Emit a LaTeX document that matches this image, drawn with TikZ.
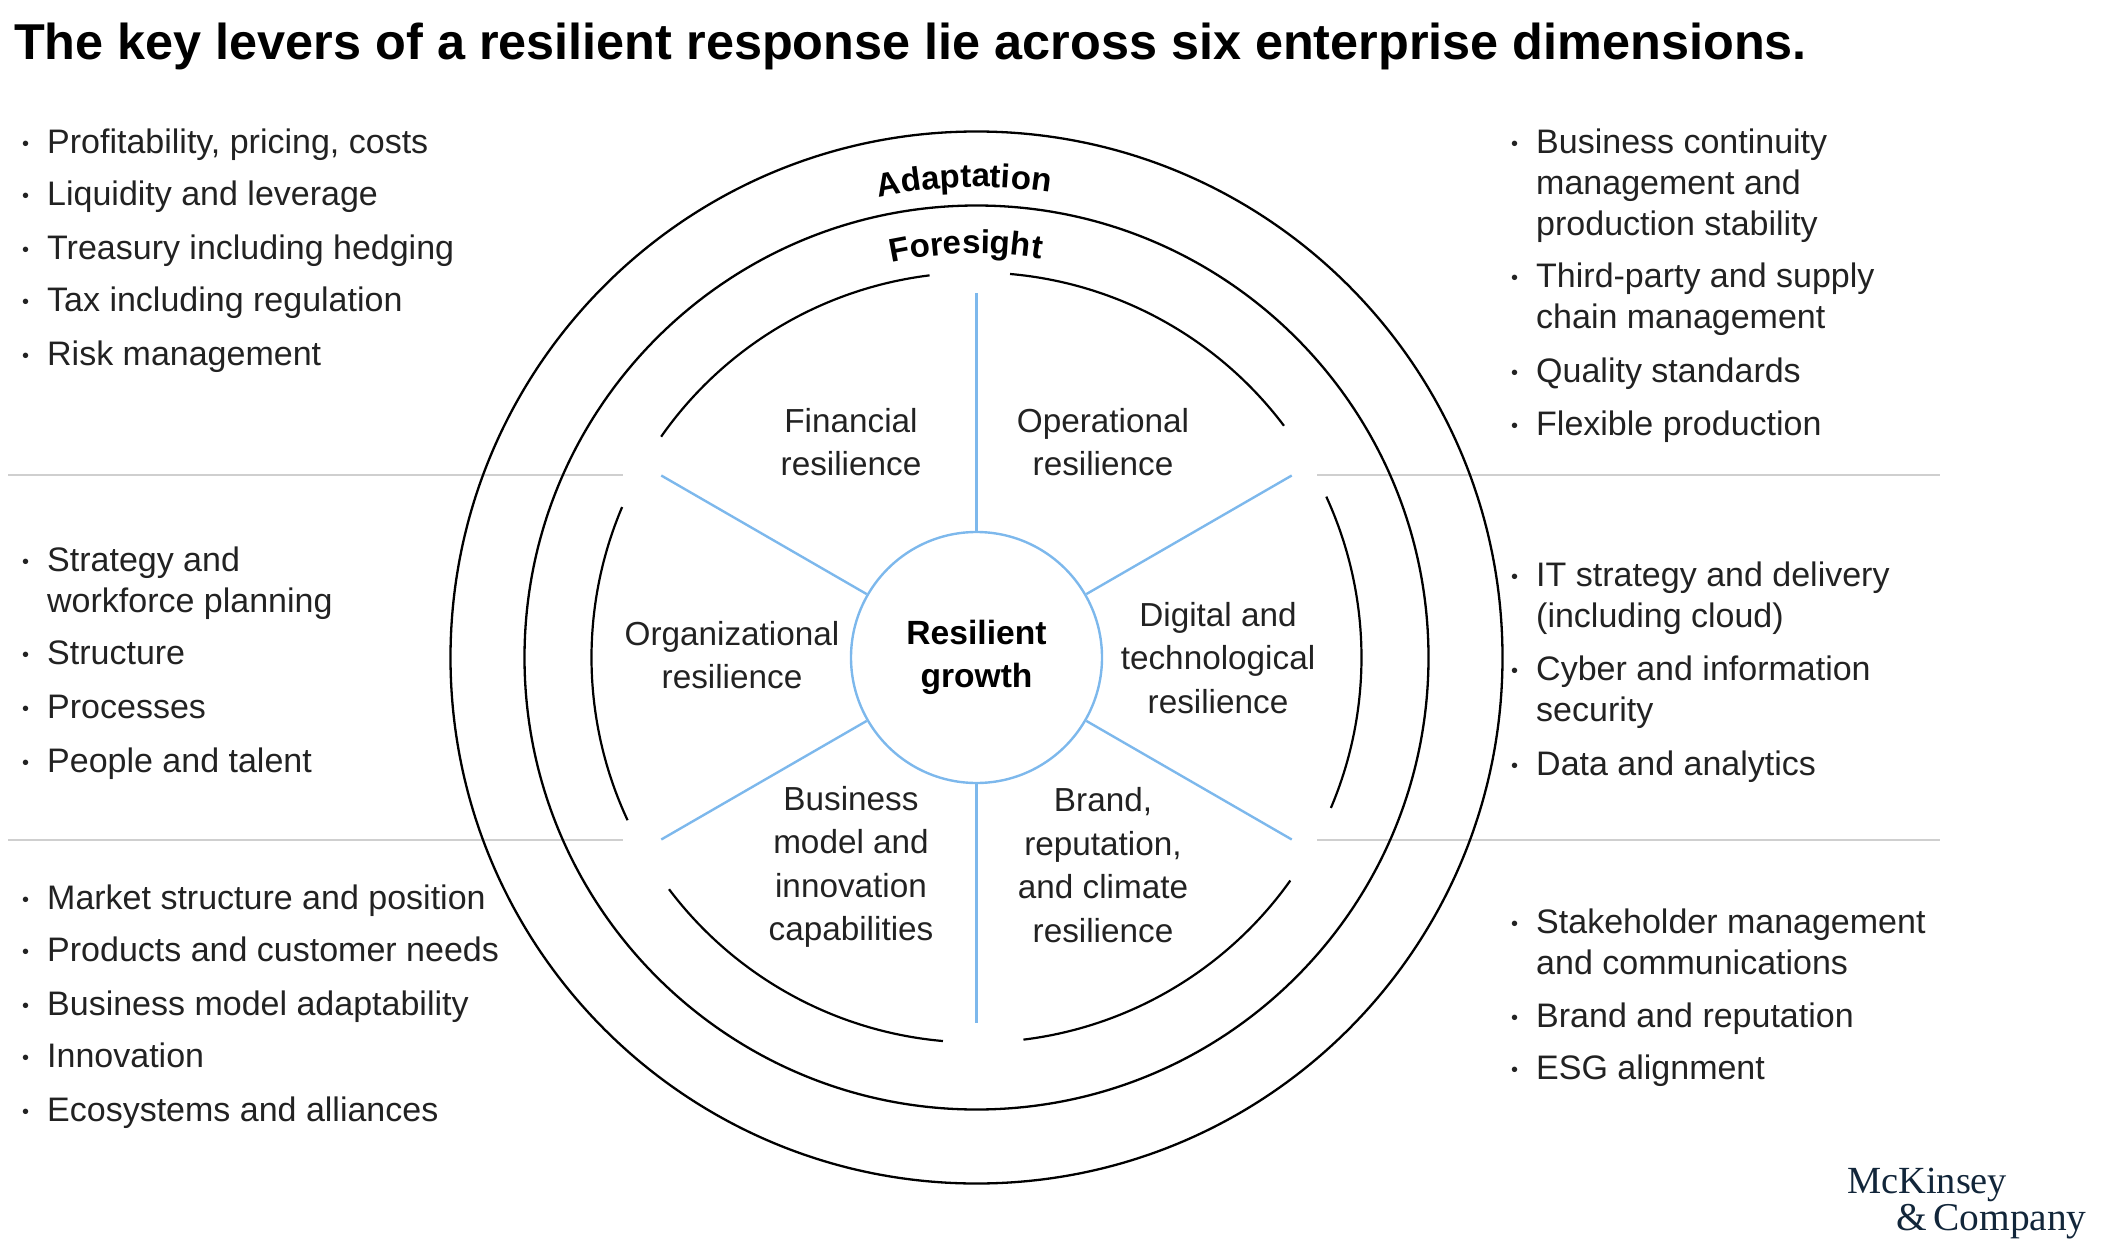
\documentclass[tikz,border=0pt]{standalone}
\usepackage{fontspec}
\setmainfont{Liberation Sans}
\newfontfamily\logofont{Liberation Serif}
\usetikzlibrary{calc,decorations.text}
\definecolor{ink}{HTML}{222222}
\definecolor{spokeblue}{HTML}{7DB8EC}
\definecolor{rulegray}{HTML}{CFCFCF}
\definecolor{logoink}{HTML}{12263A}
\newcommand{\bulletmark}{\llap{\raisebox{3pt}{\fontsize{20}{20}\selectfont •}\hspace{18pt}}}
\tikzset{
  ringline/.style={draw=black,line width=2.3pt,circle,inner sep=0pt},
  arcline/.style={draw=black,line width=2.2pt},
  spoke/.style={draw=spokeblue,line width=2.4pt},
  divider/.style={draw=rulegray,line width=1.6pt},
  item/.style={anchor=north west,inner sep=0pt,align=left,text=ink,yshift=-5.5pt,font=\fontsize{34}{41}\selectfont},
  wheel/.style={align=center,inner sep=0pt,text=ink,font=\fontsize{33.3}{43.5}\selectfont},
}
\newcommand{\curvefont}{\fontsize{33}{33}\selectfont\bfseries}
\newcommand{\innerarc}[2]{\draw[arcline] ($(c)+(#1:385pt)$) arc[start angle=#1,end angle=#2,radius=385pt];}
\begin{document}
\begin{tikzpicture}[x=1pt,y=-1pt]
\useasboundingbox (0,0) rectangle (2102,1258);
\coordinate (c) at (976.5,657.5);
% dividers
\coordinate (dl1a) at (8,475); \coordinate (dl1b) at (623,475);
\coordinate (dr1a) at (1317,475); \coordinate (dr1b) at (1940,475);
\coordinate (dl2a) at (8,840); \coordinate (dl2b) at (623,840);
\coordinate (dr2a) at (1317,840); \coordinate (dr2b) at (1940,840);
\draw[divider] (dl1a)--(dl1b); \draw[divider] (dr1a)--(dr1b);
\draw[divider] (dl2a)--(dl2b); \draw[divider] (dr2a)--(dr2b);
% rings
\node[ringline,minimum size=1052pt] (outer) at (c) {};
\node[ringline,minimum size=904pt] (middle) at (c) {};
% inner arcs
\innerarc{97}{145}
\innerarc{85}{37}
\innerarc{24.7}{-23}
\innerarc{157}{205}
\innerarc{217}{265}
\innerarc{277}{324.6}
% hub and spokes
\node[circle,draw=spokeblue,line width=2.4pt,minimum size=251pt,inner sep=0pt,align=center,font=\fontsize{33.6}{43.5}\selectfont\bfseries] (hub) at (c) {Resilient\\growth};
\coordinate (s90) at ($(c)+(90:365pt)$);
\coordinate (s30) at ($(c)+(30:364pt)$);
\coordinate (s150) at ($(c)+(150:364pt)$);
\coordinate (s210) at ($(c)+(210:364pt)$);
\coordinate (s270) at ($(c)+(270:365pt)$);
\coordinate (s330) at ($(c)+(330:364pt)$);
\draw[spoke] (hub.90)--(s90); \draw[spoke] (hub.30)--(s30);
\draw[spoke] (hub.150)--(s150); \draw[spoke] (hub.210)--(s210);
\draw[spoke] (hub.270)--(s270); \draw[spoke] (hub.330)--(s330);
% curved labels
\path[decorate,decoration={text along path,text={|\curvefont|Adaptation},text align=center}]
  ($(c)+(131.5:470.5pt)$) arc[start angle=131.5,end angle=51.5,radius=470.5pt];
\path[decorate,decoration={text along path,text={|\curvefont|Foresight},text align=center}]
  ($(c)+(131.5:404pt)$) arc[start angle=131.5,end angle=51.5,radius=404pt];
% title
\node[anchor=base west,inner sep=0pt,text=black,font=\fontsize{50.4}{54}\selectfont\bfseries] (title) at (14,59) {The key levers of a resilient response lie across six enterprise dimensions.};
% wheel labels
\node[wheel] (fin) at (851,442) {Financial\\resilience};
\node[wheel] (ope) at (1103,442) {Operational\\resilience};
\node[wheel] (org) at (732,655) {Organizational\\resilience};
\node[wheel] (dig) at (1218,658) {Digital and\\technological\\resilience};
\node[wheel] (bus) at (851,867) {Business\\model and\\innovation\\capabilities};
\node[wheel] (bra) at (1103,865) {Brand,\\reputation,\\and climate\\resilience};
% left lists
\node[item] (a1) at (47,123) {\bulletmark Profitability, pricing, costs};
\node[item] (a2) at (47,175) {\bulletmark Liquidity and leverage};
\node[item] (a3) at (47,229) {\bulletmark Treasury including hedging};
\node[item] (a4) at (47,281) {\bulletmark Tax including regulation};
\node[item] (a5) at (47,335) {\bulletmark Risk management};
\node[item] (b1) at (47,541) {\bulletmark Strategy and\\workforce planning};
\node[item] (b2) at (47,635) {\bulletmark Structure};
\node[item] (b3) at (47,689) {\bulletmark Processes};
\node[item] (b4) at (47,742) {\bulletmark People and talent};
\node[item] (d1) at (47,879) {\bulletmark Market structure and position};
\node[item] (d2) at (47,931) {\bulletmark Products and customer needs};
\node[item] (d3) at (47,985) {\bulletmark Business model adaptability};
\node[item] (d4) at (47,1037) {\bulletmark Innovation};
\node[item] (d5) at (47,1091) {\bulletmark Ecosystems and alliances};
% right lists
\node[item] (e1) at (1536,123) {\bulletmark Business continuity\\management and\\production stability};
\node[item] (e2) at (1536,257) {\bulletmark Third-party and supply\\chain management};
\node[item] (e3) at (1536,352) {\bulletmark Quality standards};
\node[item] (e4) at (1536,405) {\bulletmark Flexible production};
\node[item] (f1) at (1536,556) {\bulletmark IT strategy and delivery\\(including cloud)};
\node[item] (f2) at (1536,650) {\bulletmark Cyber and information\\security};
\node[item] (f3) at (1536,745) {\bulletmark Data and analytics};
\node[item] (g1) at (1536,903) {\bulletmark Stakeholder management\\and communications};
\node[item] (g2) at (1536,997) {\bulletmark Brand and reputation};
\node[item] (g3) at (1536,1049) {\bulletmark ESG alignment};
% logo
\node[anchor=base west,inner sep=0pt,text=logoink,font=\logofont\fontsize{38.4}{40}\selectfont] (logo1) at (1847,1193) {McKinsey};
\node[anchor=base west,inner sep=0pt,text=logoink,font=\logofont\fontsize{39.4}{40}\selectfont] (logo2) at (1896,1230) {\&\,Company};
\end{tikzpicture}
\end{document}
